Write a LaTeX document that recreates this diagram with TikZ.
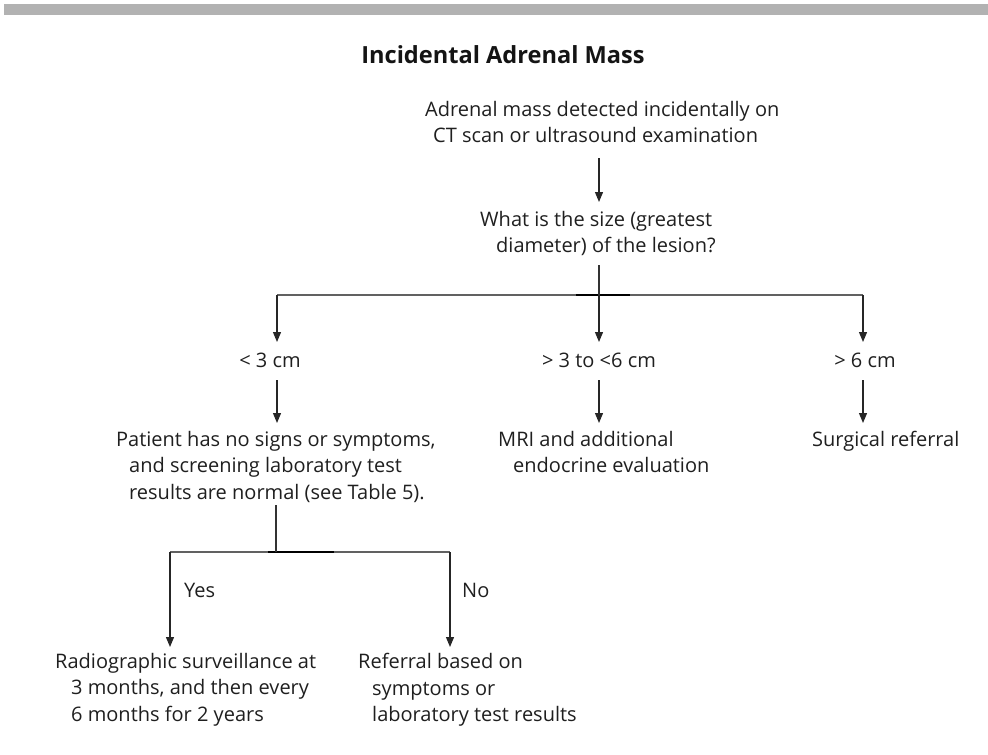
\documentclass[tikz,border=0pt]{standalone}
\usepackage{fontspec}
\setmainfont{Open Sans}
\usetikzlibrary{arrows.meta}
\begin{document}
\begin{tikzpicture}[x=1pt,y=-1pt,
  txt/.style={inner sep=0pt, anchor=north west, align=left, text=black!88,
    font=\fontsize{20}{26.5}\selectfont},
  lbl/.style={inner sep=0pt, anchor=north, text=black!88, font=\fontsize{20}{26.5}\selectfont},
  arr/.style={draw=black!85, line width=1.2pt, -{Triangle[length=10pt,width=8pt]}},
  ln/.style={draw=black!80, line width=1.2pt},
  hln/.style={draw=black!62, line width=1.2pt},
  dk/.style={draw=black, line width=1.2pt}]
\useasboundingbox (0,0) rectangle (988,755);
\fill[black!30] (4,4) rectangle (988,15);
\node[inner sep=0pt, text=black!92, font=\bfseries\fontsize{23.6}{28}\selectfont] (title) at (503,55) {Incidental Adrenal Mass};

\node[txt] (n1) at (425,101) {Adrenal mass detected incidentally on\\\hspace{8pt}CT scan or ultrasound examination};
\node[txt] (n2) at (480,211) {What is the size (greatest\\\hspace{16pt}diameter) of the lesion?};

\node[lbl] (s1) at (270,353) {< 3 cm};
\node[lbl] (s2) at (599,353) {> 3 to <6 cm};
\node[lbl] (s3) at (865,353) {> 6 cm};

\node[txt] (n3) at (116,431) {Patient has no signs or symptoms,\\\hspace{13pt}and screening laboratory test\\\hspace{13pt}results are normal (see Table 5).};
\node[txt] (n4) at (498,431) {MRI and additional\\\hspace{15pt}endocrine evaluation};
\node[txt] (n5) at (812,431) {Surgical referral};

\node[txt] (yes) at (184,583) {Yes};
\node[txt] (no) at (462,583) {No};

\node[txt] (n6) at (55,653) {Radiographic surveillance at\\\hspace{16pt}3 months, and then every\\\hspace{16pt}6 months for 2 years};
\node[txt] (n7) at (358,653) {Referral based on\\\hspace{14pt}symptoms or\\\hspace{14pt}laboratory test results};

% connector points
\coordinate (a1s) at (599,158); \coordinate (a1e) at (599,202);
\coordinate (v1s) at (599,265); \coordinate (b0) at (599,295);
\coordinate (bl) at (277,295); \coordinate (br) at (863,295);
\coordinate (b1e) at (277,342); \coordinate (b2e) at (599,342); \coordinate (b3e) at (863,342);
\coordinate (c1s) at (277,380); \coordinate (c1e) at (277,423);
\coordinate (c2s) at (599,380); \coordinate (c2e) at (599,423);
\coordinate (c3s) at (863,380); \coordinate (c3e) at (863,423);
\coordinate (v2s) at (276,505); \coordinate (d0) at (276,552);
\coordinate (dl) at (170,552); \coordinate (dr) at (450,552);
\coordinate (dle) at (170,647); \coordinate (dre) at (450,647);

\draw[arr] (a1s) -- (a1e);
\draw[hln] (bl) -- (br);
\draw[dk] (576,295) -- (630,295);
\draw[ln] (v1s) -- (b0);
\draw[arr] (bl) -- (b1e);
\draw[arr] (b0) -- (b2e);
\draw[arr] (br) -- (b3e);
\draw[arr] (c1s) -- (c1e);
\draw[arr] (c2s) -- (c2e);
\draw[arr] (c3s) -- (c3e);
\draw[hln] (dl) -- (dr);
\draw[dk] (268,552) -- (334,552);
\draw[ln] (v2s) -- (d0);
\draw[arr] (dl) -- (dle);
\draw[arr] (dr) -- (dre);
\end{tikzpicture}
\end{document}
